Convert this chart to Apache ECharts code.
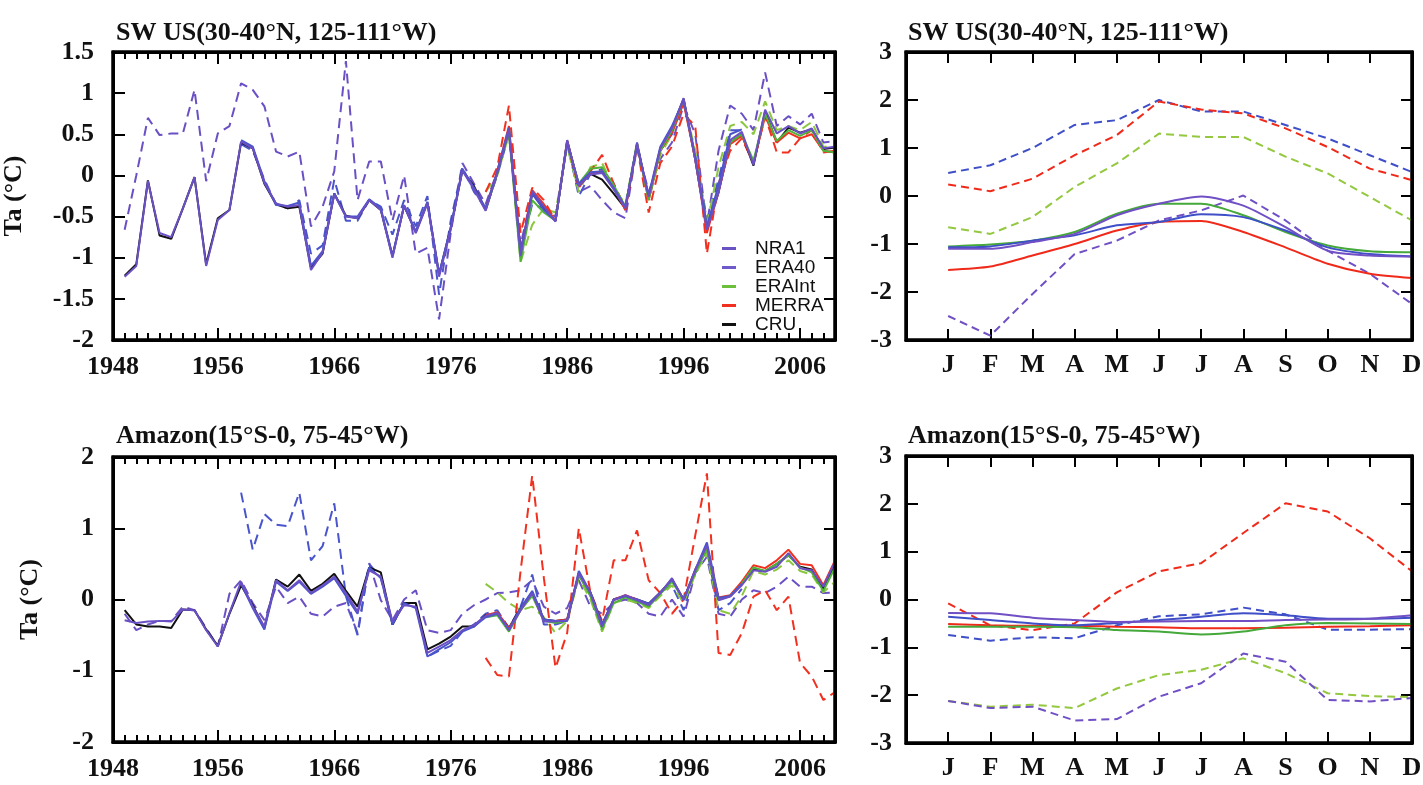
<!DOCTYPE html>
<html><head><meta charset="utf-8">
<script src="https://cdn.jsdelivr.net/npm/echarts@6/dist/echarts.min.js"></script>
<style>html,body{margin:0;padding:0;background:#fff}#c{width:1423px;height:785px}</style>
</head><body><div id="c"></div>
<script>
// ---------- data ----------
const seriesNames = ['NRA1','ERA40','ERAInt','MERRA','CRU'];
const monthLabels = ['J','F','M','A','M','J','J','A','S','O','N','D'];
const yearTickValues = [1956,1966,1976,1986,1996,2006];
const firstYearLabel = '1948';
const axisFirstYear = 1947, axisLastYear = 2009;

// SW US annual anomalies (solid: 1948-2009 / 1958-2001 / 1979-2009)
const swNRA1 = [-1.23,-1.10,-0.07,-0.70,-0.75,-0.40,-0.02,-1.10,-0.54,-0.42,
 0.41,0.33,-0.09,-0.34,-0.38,-0.36,-1.15,-0.94,-0.23,-0.50,
 -0.52,-0.30,-0.42,-1.00,-0.36,-0.70,-0.34,-1.23,-0.66,0.06,
 -0.17,-0.43,0.03,0.55,-0.98,-0.19,-0.38,-0.56,0.43,-0.13,
 0.01,0.03,-0.17,-0.40,0.39,-0.26,0.33,0.57,0.94,0.19,
 -0.66,-0.21,0.43,0.53,0.13,0.80,0.51,0.60,0.51,0.57,
 0.33,0.35];
const swCRU = [-1.22,-1.08,-0.06,-0.73,-0.77,-0.40,-0.02,-1.08,-0.52,-0.42,
 0.40,0.33,-0.10,-0.35,-0.40,-0.38,-1.12,-0.95,-0.22,-0.49,
 -0.52,-0.30,-0.42,-0.98,-0.37,-0.69,-0.33,-1.20,-0.64,0.06,
 -0.13,-0.42,0.03,0.55,-0.96,-0.22,-0.40,-0.55,0.42,-0.12,
 0.02,-0.05,-0.22,-0.40,0.38,-0.27,0.32,0.57,0.93,0.19,
 -0.64,-0.20,0.40,0.50,0.12,0.78,0.40,0.58,0.52,0.56,
 0.32,0.34];
const swERA40 = [0.43,0.35,-0.07,-0.36,-0.37,-0.33,-1.10,-0.92,-0.22,-0.50,
 -0.50,-0.29,-0.40,-0.98,-0.37,-0.68,-0.32,-1.20,-0.63,0.08,
 -0.15,-0.40,0.05,0.58,-0.92,-0.22,-0.42,-0.55,0.40,-0.10,
 0.04,0.05,-0.15,-0.38,0.36,-0.24,0.35,0.60,0.92,0.22,
 -0.62,-0.12,0.50,0.56];
const swERAInt = [-0.42,0.02,0.55,-1.05,-0.30,-0.45,-0.55,0.40,-0.10,0.08,
 0.10,-0.12,-0.38,0.38,-0.30,0.30,0.55,0.92,0.22,-0.62,
 -0.15,0.40,0.50,0.18,0.75,0.42,0.55,0.48,0.55,0.30,
 0.28];
const swMERRA = [-0.40,0.05,0.60,-0.95,-0.18,-0.35,-0.55,0.42,-0.12,0.02,
 0.05,-0.15,-0.42,0.37,-0.30,0.30,0.52,0.88,0.20,-0.70,
 -0.20,0.38,0.48,0.15,0.72,0.40,0.52,0.45,0.50,0.30,
 0.28];
// SW US dashed
const swNRA1d = [-0.66,0.00,0.70,0.49,0.51,0.51,1.04,-0.07,0.51,0.60,
 1.12,1.04,0.84,0.29,0.23,0.29,-0.62,-0.38,0.05,1.39,
 -0.30,0.17,0.17,-0.55,0.00,-0.95,-0.88,-1.75,-0.70,0.15,
 -0.10,-0.35,0.05,0.50,-0.85,-0.20,-0.40,-0.50,0.38,-0.20,
 -0.13,-0.30,-0.45,-0.52,0.35,-0.20,0.20,0.40,0.85,0.50,
 -0.60,0.30,0.85,0.75,0.55,1.25,0.60,0.72,0.62,0.75,
 0.40,0.42];
const swERA40d = [0.38,0.30,-0.05,-0.35,-0.40,-0.30,-0.95,-0.85,-0.05,-0.55,
 -0.55,-0.30,-0.38,-0.72,-0.30,-0.62,-0.25,-1.45,-0.55,0.10,
 -0.20,-0.40,0.00,0.50,-0.90,-0.35,-0.40,-0.55,0.40,-0.25,
 0.02,0.08,-0.10,-0.42,0.40,-0.28,0.30,0.50,0.90,0.25,
 -0.55,-0.05,0.55,0.55];
const swERAIntd = [-0.20,0.00,0.50,-1.05,-0.60,-0.40,-0.45,0.35,-0.20,0.10,
 0.15,-0.15,-0.35,0.40,-0.30,0.25,0.50,0.90,0.30,-0.60,
 0.10,0.60,0.65,0.50,0.90,0.55,0.60,0.55,0.65,0.35,
 0.35];
const swMERRAd = [-0.20,0.10,0.85,-0.70,-0.15,-0.30,-0.55,0.40,-0.15,0.05,
 0.25,-0.10,-0.40,0.35,-0.45,0.15,0.35,0.75,0.60,-0.95,
 -0.10,0.30,0.45,0.15,0.72,0.28,0.28,0.45,0.55,0.28,
 0.30];

// Amazon annual anomalies
const amNRA1 = [-0.29,-0.33,-0.31,-0.30,-0.31,-0.14,-0.15,-0.43,-0.66,-0.19,
 0.25,-0.10,-0.38,0.27,0.13,0.27,0.09,0.20,0.32,0.09,
 -0.17,0.41,0.32,-0.31,-0.08,-0.10,-0.75,-0.66,-0.57,-0.43,
 -0.36,-0.23,-0.19,-0.43,-0.15,0.09,-0.31,-0.31,-0.29,0.37,
 0.09,-0.38,-0.01,0.06,-0.01,-0.08,0.09,0.30,-0.01,0.41,
 0.76,-0.01,0.04,0.20,0.41,0.39,0.46,0.65,0.44,0.41,
 0.18,0.53];
const amCRU = [-0.15,-0.35,-0.38,-0.38,-0.40,-0.14,-0.15,-0.42,-0.65,-0.20,
 0.20,-0.08,-0.40,0.28,0.18,0.35,0.12,0.22,0.36,0.12,
 -0.10,0.45,0.38,-0.35,-0.05,-0.05,-0.70,-0.62,-0.52,-0.38,
 -0.38,-0.22,-0.20,-0.40,-0.12,0.10,-0.28,-0.30,-0.28,0.35,
 0.10,-0.35,0.00,0.05,0.00,-0.06,0.10,0.28,0.00,0.40,
 0.72,0.00,0.05,0.22,0.42,0.40,0.50,0.62,0.46,0.42,
 0.15,0.50];
const amERA40 = [0.22,-0.12,-0.42,0.25,0.12,0.25,0.08,0.18,0.30,0.05,
 -0.20,0.45,0.30,-0.35,-0.05,-0.12,-0.80,-0.70,-0.60,-0.45,
 -0.38,-0.25,-0.20,-0.42,-0.12,0.12,-0.28,-0.30,-0.30,0.40,
 0.10,-0.35,0.00,0.05,0.00,-0.06,0.10,0.28,0.00,0.42,
 0.80,0.02,0.05,0.22];
const amERAInt = [-0.25,-0.22,-0.45,-0.15,0.05,-0.30,-0.33,-0.30,0.35,0.05,
 -0.42,-0.05,0.03,-0.03,-0.10,0.08,0.25,0.00,0.38,0.70,
 0.00,0.05,0.22,0.45,0.40,0.50,0.62,0.45,0.38,0.12,
 0.45];
const amMERRA = [-0.22,-0.18,-0.40,-0.15,0.08,-0.30,-0.30,-0.28,0.37,0.08,
 -0.38,0.00,0.06,0.00,-0.08,0.09,0.28,0.00,0.42,0.72,
 0.03,0.06,0.25,0.48,0.44,0.55,0.70,0.50,0.48,0.20,
 0.55];
const amNRA1d = [-0.20,-0.43,-0.35,-0.30,-0.30,-0.10,-0.15,-0.40,-0.66,0.08,
 0.27,-0.05,-0.29,0.18,-0.05,0.04,-0.20,-0.24,-0.10,-0.05,
 -0.47,0.51,-0.01,-0.29,0.00,0.13,-0.43,-0.47,-0.43,-0.20,
 -0.08,0.00,0.09,0.10,0.13,0.27,-0.10,-0.20,-0.12,0.27,
 -0.10,-0.20,-0.05,0.00,-0.05,-0.20,-0.24,0.00,-0.24,0.37,
 0.60,-0.20,-0.24,0.00,0.13,0.09,0.18,0.32,0.18,0.18,
 0.09,0.10];
const amERA40d = [1.50,0.70,1.20,1.05,1.03,1.50,0.55,0.75,1.35,0.05,
 -0.50,0.50,0.30,-0.35,-0.05,-0.05,-0.80,-0.72,-0.65,-0.45,
 -0.35,-0.20,-0.15,-0.40,-0.10,0.35,-0.35,-0.35,-0.30,0.35,
 0.05,-0.40,0.00,0.05,-0.02,-0.08,0.10,0.20,-0.15,0.40,
 0.70,-0.15,-0.05,0.15];
const amERAIntd = [0.22,0.10,-0.05,-0.15,-0.10,-0.25,-0.47,-0.30,0.30,0.00,
 -0.45,-0.05,0.00,-0.05,-0.12,0.05,0.20,-0.05,0.35,0.65,
 -0.15,-0.20,0.05,0.40,0.35,0.42,0.55,0.40,0.35,0.10,
 0.25];
const amMERRAd = [-0.82,-1.06,-1.08,0.40,1.74,0.30,-0.96,-0.47,1.00,0.10,
 -0.30,0.55,0.55,0.97,0.27,0.09,-0.20,0.00,0.90,1.77,
 -0.75,-0.78,-0.47,0.04,0.13,-0.15,0.04,-0.89,-1.08,-1.41,
 -1.30];

// Seasonal cycle, SW US
const swsERA40d  = [0.48,0.64,1.00,1.48,1.58,2.00,1.76,1.76,1.48,1.20,0.85,0.50];
const swsMERRAd  = [0.24,0.10,0.36,0.85,1.27,1.97,1.80,1.72,1.41,1.02,0.57,0.33];
const swsERAIntd = [-0.65,-0.79,-0.44,0.19,0.68,1.30,1.23,1.23,0.82,0.47,-0.02,-0.51];
const swsNRA1d   = [-2.50,-2.91,-2.04,-1.21,-0.93,-0.51,-0.30,0.01,-0.51,-1.14,-1.62,-2.25];
const swsNRA1    = [-1.10,-1.10,-0.96,-0.79,-0.40,-0.16,-0.01,-0.20,-0.65,-1.14,-1.24,-1.26];
const swsERAInt  = [-1.05,-1.01,-0.93,-0.75,-0.37,-0.16,-0.16,-0.40,-0.75,-1.03,-1.15,-1.17];
const swsERA40   = [-1.07,-1.05,-0.93,-0.82,-0.61,-0.54,-0.38,-0.44,-0.72,-1.07,-1.21,-1.26];
const swsMERRA   = [-1.54,-1.47,-1.24,-1.00,-0.72,-0.54,-0.52,-0.75,-1.07,-1.41,-1.62,-1.71];

// Seasonal cycle, Amazon
const amsMERRAd  = [-0.08,-0.54,-0.64,-0.50,0.15,0.59,0.76,1.39,2.01,1.84,1.28,0.59];
const amsERA40d  = [-0.74,-0.86,-0.79,-0.81,-0.54,-0.35,-0.31,-0.17,-0.31,-0.63,-0.63,-0.62];
const amsERAIntd = [-2.12,-2.24,-2.20,-2.27,-1.86,-1.58,-1.47,-1.23,-1.54,-1.96,-2.02,-2.04];
const amsNRA1d   = [-2.12,-2.27,-2.24,-2.53,-2.50,-2.03,-1.75,-1.13,-1.30,-2.10,-2.13,-2.06];
const amsNRA1    = [-0.28,-0.29,-0.38,-0.43,-0.47,-0.46,-0.45,-0.45,-0.43,-0.42,-0.40,-0.33];
const amsERA40   = [-0.36,-0.43,-0.50,-0.54,-0.49,-0.43,-0.36,-0.29,-0.33,-0.40,-0.40,-0.38];
const amsERAInt  = [-0.57,-0.57,-0.57,-0.58,-0.64,-0.67,-0.73,-0.67,-0.54,-0.49,-0.50,-0.51];
const amsMERRA   = [-0.51,-0.54,-0.55,-0.55,-0.57,-0.58,-0.60,-0.60,-0.59,-0.57,-0.56,-0.54];

// ---------- helpers ----------
const C = {NRA1:'#6a50c4', ERA40:'#4a55cc', ERAInt:'#4fb33a', ERAIntD:'#8cc63f', MERRA:'#f2301f', CRU:'#111111'};
const RC = {blue:'#3f4fc8', purple:'#7050c4', green:'#45a83a', greenD:'#93c83f', red:'#f02a1a'};
const SERIF = 'Liberation Serif';
const INK = '#111111';

const yearCats = [];
for (let y = axisFirstYear; y <= axisLastYear; y++) yearCats.push(String(y));
const majorSet = {};
yearTickValues.forEach(v => { majorSet[String(v)] = true; });

function yr(start, vals){ return vals.map((v,i)=>[start+i, v]); }
function mo(vals){ return vals.map((v,i)=>[i+1, v]); }

function ln(name, xi, yi, data, color, dashed, dash, smooth){
  return {type:'line', name, xAxisIndex:xi, yAxisIndex:yi, data, symbol:'none', showSymbol:false,
    smooth: smooth||false, silent:true,
    lineStyle:{color, width:2, type: dashed ? dash : 'solid'}, itemStyle:{color}};
}

function tickStyle(){ return {color:'#000000', width:2}; }
function lineOn(){ return {show:true, onZero:false, lineStyle:{color:'#000000', width:3}}; }
function lineOff(){ return {show:false, onZero:false}; }
function labelFont(){ return {fontFamily:SERIF, fontWeight:'bold', fontSize:26, color:INK}; }

// level 0: category decoration axes give long ticks at 1956..2006 and short yearly ticks
function yearAxes(gi, level){
  const valueAxis = {gridIndex:gi, type:'value', min:axisFirstYear, max:axisLastYear, splitLine:{show:false}};
  if (level === 0){
    valueAxis.position = 'bottom';
    valueAxis.axisLine = lineOff(); valueAxis.axisTick = {show:false}; valueAxis.axisLabel = {show:false};
    const cat = (pos, major) => {
      const a = {gridIndex:gi, type:'category', data:yearCats, boundaryGap:false, position:pos,
        splitLine:{show:false}};
      if (major){
        a.axisLine = lineOn();
        a.axisTick = {show:true, inside:true, length:12, lineStyle:tickStyle(),
          interval:(i, v) => majorSet[v] === true};
        if (pos === 'bottom'){
          a.axisLabel = Object.assign({margin:14, interval:(i, v) => i === 0 || majorSet[v] === true,
            formatter:(v) => v === String(axisFirstYear) ? firstYearLabel : v}, labelFont());
        } else {
          a.axisLabel = {show:false};
        }
      } else {
        a.axisLine = lineOff();
        a.axisTick = {show:true, inside:true, length:7, lineStyle:tickStyle(), interval:0};
        a.axisLabel = {show:false};
      }
      return a;
    };
    return [valueAxis, cat('bottom', true), cat('bottom', false), cat('top', true), cat('top', false)];
  }
  // fallback: one value axis, yearly ticks, labels only at the major years
  valueAxis.position = 'bottom';
  valueAxis.interval = 1;
  valueAxis.axisLine = lineOn();
  valueAxis.axisTick = {show:true, inside:true, length:8, lineStyle:tickStyle()};
  valueAxis.axisLabel = Object.assign({margin:14, formatter:v => v === axisFirstYear ? firstYearLabel :
    (yearTickValues.indexOf(v) >= 0 ? String(v) : '')}, labelFont());
  const topAxis = {gridIndex:gi, type:'value', min:axisFirstYear, max:axisLastYear, interval:1, position:'top',
    splitLine:{show:false}, axisLine:lineOn(), axisTick:{show:true, inside:true, length:8, lineStyle:tickStyle()},
    axisLabel:{show:false}};
  return [valueAxis, topAxis, topAxis, topAxis, topAxis].map((a, i) => i < 2 ? a : Object.assign({}, topAxis, {axisLine:lineOff(), axisTick:{show:false}}));
}
function monthAxes(gi){
  const base = {gridIndex:gi, type:'value', min:0, max:12, interval:1, splitLine:{show:false}};
  return [
    Object.assign({}, base, {position:'bottom', axisLine:lineOn(),
      axisTick:{show:true, inside:true, length:11, lineStyle:tickStyle()},
      axisLabel:Object.assign({margin:12,
        formatter:v=> (v>=1 && v<=12) ? monthLabels[v-1] : ''}, labelFont())}),
    Object.assign({}, base, {position:'top', axisLine:lineOn(),
      axisTick:{show:true, inside:true, length:11, lineStyle:tickStyle()}, axisLabel:{show:false}})
  ];
}
function valAxes(gi, min, max, interval, margin, name, nameGap){
  const base = {gridIndex:gi, type:'value', min, max, interval, splitLine:{show:false}};
  const left = Object.assign({}, base, {position:'left', axisLine:lineOn(),
      axisTick:{show:true, inside:true, length:12, lineStyle:tickStyle()},
      axisLabel:Object.assign({margin}, labelFont())});
  if (name){
    left.name = name; left.nameLocation = 'middle'; left.nameGap = nameGap; left.nameRotate = 90;
    left.nameTextStyle = labelFont();
  }
  return [left,
    Object.assign({}, base, {position:'right', axisLine:lineOn(),
      axisTick:{show:true, inside:true, length:11, lineStyle:tickStyle()}, axisLabel:{show:false}})];
}

const gridRects = [
  {left:113, top:52, width:722, height:288},
  {left:906, top:52, width:506, height:288},
  {left:113, top:457, width:722, height:285},
  {left:906, top:456, width:506, height:287}
];

const LD = [10,6], RD = [8,5];
function annual(xi, yi, d){
  return [
    ln('NRA1', xi, yi, yr(1948, d.NRA1d), C.NRA1, true, LD),
    ln('ERA40', xi, yi, yr(1958, d.ERA40d), C.ERA40, true, LD),
    ln('ERAInt', xi, yi, yr(1979, d.ERAIntd), C.ERAIntD, true, LD),
    ln('MERRA', xi, yi, yr(1979, d.MERRAd), C.MERRA, true, LD),
    ln('CRU', xi, yi, yr(1948, d.CRU), C.CRU, false),
    ln('MERRA', xi, yi, yr(1979, d.MERRA), C.MERRA, false),
    ln('ERAInt', xi, yi, yr(1979, d.ERAInt), C.ERAInt, false),
    ln('ERA40', xi, yi, yr(1958, d.ERA40), C.ERA40, false),
    ln('NRA1', xi, yi, yr(1948, d.NRA1), C.NRA1, false)
  ];
}
function seasonal(xi, yi, d){
  return [
    ln('ERA40', xi, yi, mo(d.ERA40d), RC.blue, true, RD),
    ln('MERRA', xi, yi, mo(d.MERRAd), RC.red, true, RD),
    ln('ERAInt', xi, yi, mo(d.ERAIntd), RC.greenD, true, RD),
    ln('NRA1', xi, yi, mo(d.NRA1d), RC.purple, true, RD),
    ln('MERRA', xi, yi, mo(d.MERRA), RC.red, false, null, 0.25),
    ln('ERAInt', xi, yi, mo(d.ERAInt), RC.green, false, null, 0.25),
    ln('ERA40', xi, yi, mo(d.ERA40), RC.blue, false, null, 0.25),
    ln('NRA1', xi, yi, mo(d.NRA1), RC.purple, false, null, 0.25)
  ];
}

const legendColors = {NRA1:'#6a52c4', ERA40:'#7059c8', ERAInt:'#6cbf3a', MERRA:'#f2301f', CRU:'#111'};

function buildOption(level){
  const grids = gridRects.map(r => Object.assign({show:true, borderColor:'#000', borderWidth:3},
    level < 2 ? {outerBoundsMode:'none'} : {containLabel:false}, r));
  // x axis index layout: grid0 0-4, grid1 5-6, grid2 7-11, grid3 12-13
  const xAxes = [].concat(yearAxes(0, level), monthAxes(1), yearAxes(2, level), monthAxes(3));
  const yAxes = [].concat(
    valAxes(0, -2, 1.5, 0.5, 19, 'Ta (°C)', 86),
    valAxes(1, -3, 3, 1, 14),
    valAxes(2, -2, 2, 1, 19, 'Ta (°C)', 70),
    valAxes(3, -3, 3, 1, 14)
  );
  const series = [].concat(
    annual(0, 0, {NRA1:swNRA1, CRU:swCRU, ERA40:swERA40, ERAInt:swERAInt, MERRA:swMERRA,
      NRA1d:swNRA1d, ERA40d:swERA40d, ERAIntd:swERAIntd, MERRAd:swMERRAd}),
    seasonal(5, 2, {ERA40d:swsERA40d, MERRAd:swsMERRAd, ERAIntd:swsERAIntd, NRA1d:swsNRA1d,
      NRA1:swsNRA1, ERAInt:swsERAInt, ERA40:swsERA40, MERRA:swsMERRA}),
    annual(7, 4, {NRA1:amNRA1, CRU:amCRU, ERA40:amERA40, ERAInt:amERAInt, MERRA:amMERRA,
      NRA1d:amNRA1d, ERA40d:amERA40d, ERAIntd:amERAIntd, MERRAd:amMERRAd}),
    seasonal(12, 6, {ERA40d:amsERA40d, MERRAd:amsMERRAd, ERAIntd:amsERAIntd, NRA1d:amsNRA1d,
      NRA1:amsNRA1, ERAInt:amsERAInt, ERA40:amsERA40, MERRA:amsMERRA})
  );
  const titleStyle = labelFont();
  const legendText = {fontFamily:'Liberation Sans', fontSize:19, lineHeight:19, color:INK};
  if (level < 2) legendText.padding = [0,0,0,14];
  return {
    animation:false,
    title:[
      {text:'SW US(30-40°N, 125-111°W)', left:111, top:15, textStyle:titleStyle},
      {text:'SW US(30-40°N, 125-111°W)', left:903, top:15, textStyle:titleStyle},
      {text:'Amazon(15°S-0, 75-45°W)', left:111, top:418, textStyle:titleStyle},
      {text:'Amazon(15°S-0, 75-45°W)', left:903, top:418, textStyle:titleStyle}
    ],
    legend:{
      orient:'vertical', left:717, top:234, itemWidth:14, itemHeight:3, itemGap:0, icon:'rect',
      selectedMode:false,
      data: seriesNames.map(n=>({name:n, itemStyle:{color:legendColors[n]}})),
      textStyle:legendText
    },
    graphic:{elements: gridRects.map(r => ({type:'rect', silent:true, z:50,
      shape:{x:r.left, y:r.top, width:r.width, height:r.height},
      style:{stroke:'#000', lineWidth:3, fill:'rgba(0,0,0,0)'}}))},
    grid:grids,
    xAxis:xAxes,
    yAxis:yAxes,
    series
  };
}

const host = document.getElementById('c');
let chart = null;
for (const level of [0, 1, 2]){
  try {
    if (chart) { chart.dispose(); }
    chart = echarts.init(host, null, {renderer:'canvas'});
    chart.setOption(buildOption(level));
    break;
  } catch (e) {
    // try the next, simpler configuration
  }
}
</script>
</body></html>
